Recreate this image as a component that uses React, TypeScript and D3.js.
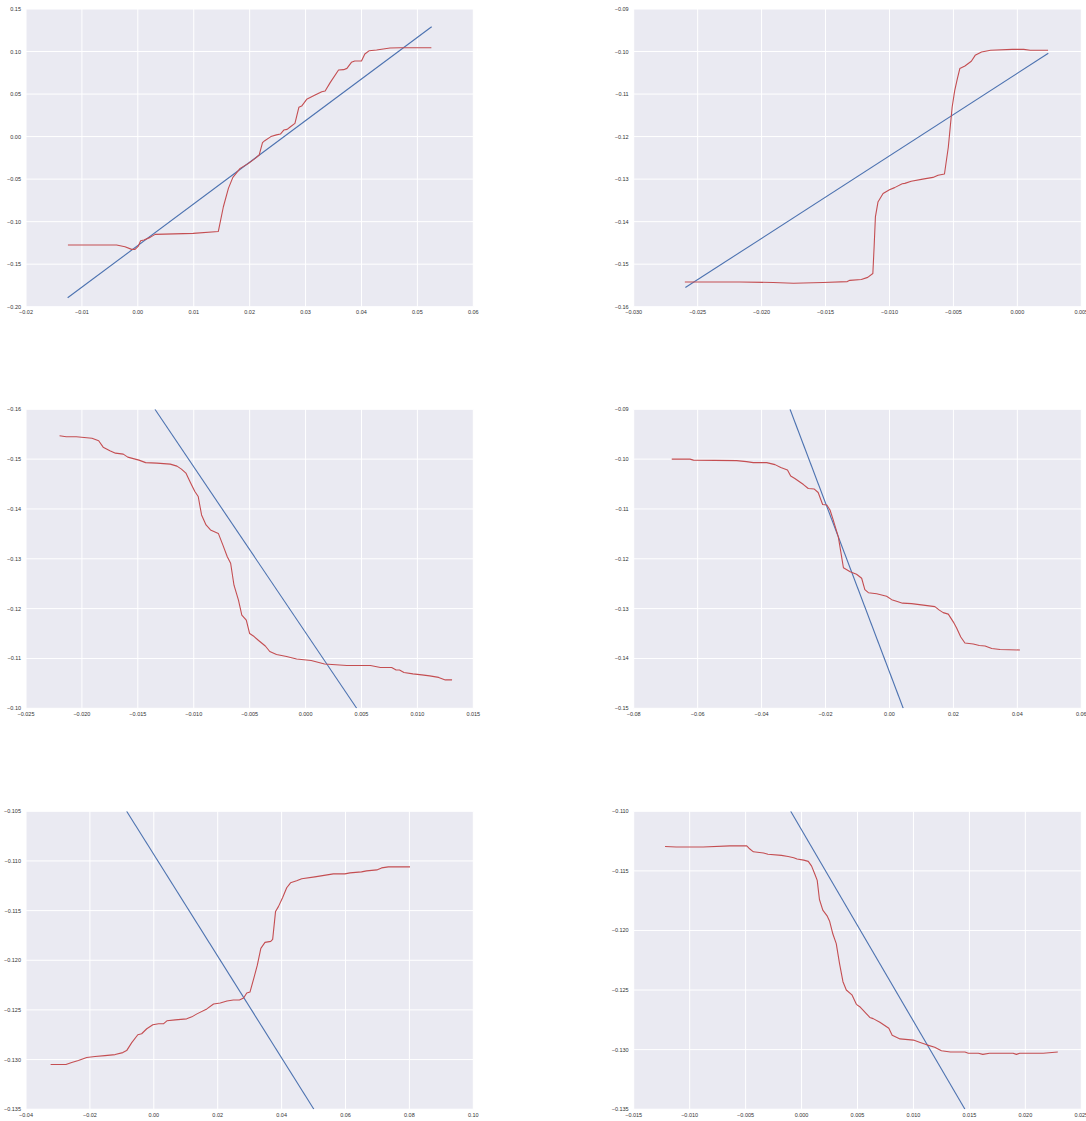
import React from "react";
import * as d3 from "d3";

// ---------- DATA ----------
// Panel 1 (top-left)
const p1XTicks = [-0.02, -0.01, 0.0, 0.01, 0.02, 0.03, 0.04, 0.05, 0.06];
const p1YTicks = [-0.2, -0.15, -0.1, -0.05, 0.0, 0.05, 0.1, 0.15];
const p1BlueX = [-0.01255, 0.05255];
const p1BlueY = [-0.1895, 0.1292];
const p1RedX = [-0.0125, -0.0038, -0.0023, -0.0011, -0.0005, 0.0001, 0.0005, 0.0011, 0.0022, 0.0031, 0.0099, 0.0144, 0.0153, 0.0162, 0.017, 0.0183, 0.0198, 0.021, 0.0217, 0.0223, 0.0227, 0.0238, 0.0248, 0.0255, 0.0261, 0.0267, 0.0273, 0.0281, 0.0288, 0.0293, 0.0302, 0.0317, 0.0329, 0.0335, 0.0344, 0.0359, 0.0368, 0.0374, 0.0382, 0.0388, 0.04, 0.0406, 0.0414, 0.0427, 0.0451, 0.0469, 0.0525];
const p1RedY = [-0.1275, -0.1275, -0.1295, -0.1326, -0.1326, -0.1287, -0.1224, -0.1216, -0.1185, -0.115, -0.1138, -0.1115, -0.0825, -0.0609, -0.048, -0.0374, -0.0315, -0.0256, -0.0217, -0.0072, -0.0048, 0.0, 0.002, 0.003, 0.0077, 0.0085, 0.0116, 0.0155, 0.0344, 0.0359, 0.0438, 0.0489, 0.0528, 0.0536, 0.0634, 0.0783, 0.0787, 0.0802, 0.0873, 0.0888, 0.0888, 0.0971, 0.101, 0.1018, 0.1041, 0.1045, 0.1045];

// Panel 2 (top-right)
const p2XTicks = [-0.03, -0.025, -0.02, -0.015, -0.01, -0.005, 0.0, 0.005];
const p2YTicks = [-0.16, -0.15, -0.14, -0.13, -0.12, -0.11, -0.1, -0.09];
const p2BlueX = [-0.02596, 0.00242];
const p2BlueY = [-0.1555, -0.1004];
const p2RedX = [-0.026, -0.0217, -0.0191, -0.0175, -0.0152, -0.0133, -0.0131, -0.0122, -0.0117, -0.0113, -0.0112, -0.0111, -0.0109, -0.0105, -0.01, -0.0096, -0.009, -0.0088, -0.0083, -0.0074, -0.0066, -0.0062, -0.0057, -0.0054, -0.0051, -0.0049, -0.0047, -0.0045, -0.0041, -0.0036, -0.0033, -0.0028, -0.0021, -0.0004, 0.0005, 0.001, 0.0024];
const p2RedY = [-0.1542, -0.1542, -0.1543, -0.1545, -0.1543, -0.1541, -0.1538, -0.1536, -0.1531, -0.1522, -0.1459, -0.1389, -0.1354, -0.1334, -0.1325, -0.132, -0.1311, -0.131, -0.1305, -0.13, -0.1296, -0.1291, -0.1288, -0.1225, -0.1131, -0.1092, -0.1065, -0.104, -0.1034, -0.1023, -0.1009, -0.1001, -0.0997, -0.0995, -0.0995, -0.0997, -0.0997];

// Panel 3 (middle-left, inverted y)
const p3XTicks = [-0.025, -0.02, -0.015, -0.01, -0.005, 0.0, 0.005, 0.01, 0.015];
const p3YTicks = [-0.16, -0.15, -0.14, -0.13, -0.12, -0.11, -0.1];
const p3BlueX = [-0.01347, 0.00457];
const p3BlueY = [-0.16, -0.1];
const p3RedX = [-0.022, -0.0214, -0.0205, -0.0191, -0.0185, -0.0181, -0.0175, -0.017, -0.0163, -0.0159, -0.0149, -0.0143, -0.0133, -0.0121, -0.0115, -0.0111, -0.0107, -0.0103, -0.0099, -0.0096, -0.0093, -0.0089, -0.0085, -0.0078, -0.0074, -0.007, -0.0067, -0.0064, -0.006, -0.0057, -0.0053, -0.005, -0.0046, -0.0042, -0.0036, -0.0032, -0.0026, -0.0017, -0.0008, 0.0005, 0.0017, 0.0037, 0.0058, 0.0067, 0.0077, 0.0081, 0.0084, 0.0088, 0.0096, 0.0104, 0.0111, 0.0119, 0.0125, 0.0131];
const p3RedY = [-0.1547, -0.1545, -0.1545, -0.1542, -0.1537, -0.1524, -0.1517, -0.1512, -0.151, -0.1504, -0.1498, -0.1493, -0.1492, -0.149, -0.1486, -0.148, -0.1472, -0.1453, -0.1435, -0.1425, -0.1388, -0.1368, -0.1358, -0.1351, -0.1328, -0.1304, -0.1291, -0.1247, -0.1217, -0.1187, -0.1177, -0.115, -0.1144, -0.1136, -0.1125, -0.1114, -0.1108, -0.1104, -0.1099, -0.1096, -0.1089, -0.1086, -0.1086, -0.1082, -0.1082, -0.1077, -0.1077, -0.1072, -0.1069, -0.1067, -0.1065, -0.1062, -0.1057, -0.1057];

// Panel 4 (middle-right)
const p4XTicks = [-0.08, -0.06, -0.04, -0.02, 0.0, 0.02, 0.04, 0.06];
const p4YTicks = [-0.15, -0.14, -0.13, -0.12, -0.11, -0.1, -0.09];
const p4BlueX = [-0.0311, 0.0043];
const p4BlueY = [-0.09, -0.15];
const p4RedX = [-0.0681, -0.0624, -0.0613, -0.0478, -0.0447, -0.0426, -0.0384, -0.0358, -0.034, -0.0319, -0.0309, -0.0296, -0.0269, -0.0254, -0.0235, -0.0223, -0.0209, -0.0196, -0.0186, -0.0176, -0.016, -0.0144, -0.0123, -0.0103, -0.0087, -0.0077, -0.0066, -0.004, -0.0009, 0.0007, 0.0022, 0.0041, 0.0069, 0.0106, 0.0142, 0.0156, 0.0168, 0.0184, 0.02, 0.021, 0.0223, 0.0236, 0.0262, 0.0281, 0.0299, 0.032, 0.0346, 0.0408];
const p4RedY = [-0.1, -0.1, -0.1002, -0.1003, -0.1005, -0.1007, -0.1007, -0.1011, -0.1017, -0.1022, -0.1034, -0.1039, -0.1051, -0.1059, -0.106, -0.1067, -0.1091, -0.1092, -0.1102, -0.1122, -0.1156, -0.1218, -0.1226, -0.1231, -0.1239, -0.1262, -0.1268, -0.127, -0.1275, -0.1282, -0.1285, -0.1289, -0.129, -0.1293, -0.1296, -0.1303, -0.1308, -0.1311, -0.1327, -0.1339, -0.1357, -0.1369, -0.1371, -0.1374, -0.1375, -0.138, -0.1382, -0.1383];

// Panel 5 (bottom-left)
const p5XTicks = [-0.04, -0.02, 0.0, 0.02, 0.04, 0.06, 0.08, 0.1];
const p5YTicks = [-0.135, -0.13, -0.125, -0.12, -0.115, -0.11, -0.105];
const p5BlueX = [-0.0085, 0.0501];
const p5BlueY = [-0.105, -0.135];
const p5RedX = [-0.0323, -0.0275, -0.0257, -0.0236, -0.021, -0.0184, -0.0153, -0.0121, -0.0097, -0.0085, -0.0069, -0.005, -0.0038, -0.0022, -0.0003, 0.0015, 0.003, 0.0041, 0.0067, 0.0103, 0.0119, 0.0135, 0.0166, 0.0187, 0.0208, 0.0229, 0.0249, 0.0268, 0.0281, 0.0291, 0.0301, 0.0314, 0.0324, 0.0335, 0.0348, 0.0366, 0.0372, 0.0381, 0.039, 0.0403, 0.0416, 0.0428, 0.0447, 0.0463, 0.0504, 0.0562, 0.0598, 0.0614, 0.065, 0.0666, 0.0698, 0.0713, 0.0734, 0.0802];
const p5RedY = [-0.1305, -0.1305, -0.1303, -0.1301, -0.1298, -0.1297, -0.1296, -0.1295, -0.1293, -0.1291, -0.1283, -0.1275, -0.1274, -0.1269, -0.1265, -0.1264, -0.1264, -0.1261, -0.126, -0.1259, -0.1257, -0.1254, -0.1249, -0.1244, -0.1243, -0.1241, -0.124, -0.124, -0.1238, -0.1233, -0.1232, -0.1217, -0.1205, -0.1188, -0.1182, -0.1181, -0.1179, -0.1151, -0.1146, -0.1137, -0.1127, -0.1122, -0.112, -0.1118, -0.1116, -0.1113, -0.1113, -0.1112, -0.1111, -0.111, -0.1109, -0.1107, -0.1106, -0.1106];

// Panel 6 (bottom-right)
const p6XTicks = [-0.015, -0.01, -0.005, 0.0, 0.005, 0.01, 0.015, 0.02, 0.025];
const p6YTicks = [-0.135, -0.13, -0.125, -0.12, -0.115, -0.11];
const p6BlueX = [-0.00097, 0.0146];
const p6BlueY = [-0.11, -0.135];
const p6RedX = [-0.0122, -0.0112, -0.0088, -0.0064, -0.0049, -0.0047, -0.0043, -0.0034, -0.003, -0.0018, -0.0012, -0.0007, -0.0004, 0.0002, 0.0006, 0.0009, 0.0012, 0.0014, 0.0016, 0.0019, 0.0023, 0.0025, 0.0028, 0.0031, 0.0034, 0.0037, 0.004, 0.0045, 0.0049, 0.0052, 0.0057, 0.0061, 0.0064, 0.007, 0.0078, 0.0081, 0.0088, 0.01, 0.0106, 0.0112, 0.0119, 0.0125, 0.0133, 0.0146, 0.0149, 0.0158, 0.0162, 0.0168, 0.0189, 0.0192, 0.0195, 0.0216, 0.0229];
const p6RedY = [-0.11296, -0.113, -0.113, -0.1129, -0.1129, -0.1131, -0.1134, -0.1135, -0.1136, -0.1137, -0.1138, -0.1139, -0.114, -0.1141, -0.1142, -0.1146, -0.1153, -0.1158, -0.1174, -0.1183, -0.1188, -0.1192, -0.1203, -0.1211, -0.1228, -0.1243, -0.125, -0.1254, -0.1262, -0.1264, -0.1269, -0.1273, -0.1274, -0.1277, -0.1282, -0.1288, -0.1291, -0.1292, -0.1294, -0.1296, -0.1298, -0.1301, -0.1302, -0.1302, -0.1303, -0.1303, -0.1304, -0.1303, -0.1303, -0.1304, -0.1303, -0.1303, -0.1302];

// ---------- LAYOUT ----------
const W = 1086;
const H = 1121;
const colX: [number, number][] = [
  [26, 473.3],
  [633.7, 1081.3],
];
const rowY: [number, number][] = [
  [9, 306.7],
  [409.3, 708.3],
  [811.3, 1109.2],
];

const RED = "#C44E52";
const BLUE = "#4C72B0";
const BG = "#EAEAF2";

type PanelDef = {
  xTicks: number[];
  yTicks: number[];
  xDec: number;
  yDec: number;
  invertY: boolean;
  blueX: number[];
  blueY: number[];
  redX: number[];
  redY: number[];
  col: number;
  row: number;
};

const panels: PanelDef[] = [
  { xTicks: p1XTicks, yTicks: p1YTicks, xDec: 2, yDec: 2, invertY: false, blueX: p1BlueX, blueY: p1BlueY, redX: p1RedX, redY: p1RedY, col: 0, row: 0 },
  { xTicks: p2XTicks, yTicks: p2YTicks, xDec: 3, yDec: 2, invertY: false, blueX: p2BlueX, blueY: p2BlueY, redX: p2RedX, redY: p2RedY, col: 1, row: 0 },
  { xTicks: p3XTicks, yTicks: p3YTicks, xDec: 3, yDec: 2, invertY: true, blueX: p3BlueX, blueY: p3BlueY, redX: p3RedX, redY: p3RedY, col: 0, row: 1 },
  { xTicks: p4XTicks, yTicks: p4YTicks, xDec: 2, yDec: 2, invertY: false, blueX: p4BlueX, blueY: p4BlueY, redX: p4RedX, redY: p4RedY, col: 1, row: 1 },
  { xTicks: p5XTicks, yTicks: p5YTicks, xDec: 2, yDec: 3, invertY: false, blueX: p5BlueX, blueY: p5BlueY, redX: p5RedX, redY: p5RedY, col: 0, row: 2 },
  { xTicks: p6XTicks, yTicks: p6YTicks, xDec: 3, yDec: 3, invertY: false, blueX: p6BlueX, blueY: p6BlueY, redX: p6RedX, redY: p6RedY, col: 1, row: 2 },
];

const fmt = (v: number, dec: number) => {
  const s = d3.format(`.${dec}f`)(Math.abs(v) < 1e-12 ? 0 : v);
  return s.replace("-", "\u2212");
};

function Panel({ p, idx }: { p: PanelDef; idx: number }) {
  const [x0, x1] = colX[p.col];
  const [y0, y1] = rowY[p.row];
  const xMin = d3.min(p.xTicks)!;
  const xMax = d3.max(p.xTicks)!;
  const yMin = d3.min(p.yTicks)!;
  const yMax = d3.max(p.yTicks)!;
  const xs = d3.scaleLinear().domain([xMin, xMax]).range([x0, x1]);
  const ys = d3
    .scaleLinear()
    .domain(p.invertY ? [yMax, yMin] : [yMin, yMax])
    .range([y1, y0]);
  const line = d3
    .line<number>()
    .x((_, i) => 0)
    .y(() => 0);
  const mk = (X: number[], Y: number[]) =>
    d3
      .line<number>()
      .x((d) => xs(X[d]))
      .y((d) => ys(Y[d]))(d3.range(X.length)) || "";
  void line;
  const clipId = `clip${idx}`;
  return (
    <g>
      <defs>
        <clipPath id={clipId}>
          <rect x={x0} y={y0} width={x1 - x0} height={y1 - y0} />
        </clipPath>
      </defs>
      <rect x={x0} y={y0} width={x1 - x0} height={y1 - y0} fill={BG} />
      {p.xTicks.map((t, i) => (
        <line key={"gx" + i} x1={xs(t)} x2={xs(t)} y1={y0} y2={y1} stroke="#fff" strokeWidth={1} />
      ))}
      {p.yTicks.map((t, i) => (
        <line key={"gy" + i} x1={x0} x2={x1} y1={ys(t)} y2={ys(t)} stroke="#fff" strokeWidth={1} />
      ))}
      <g clipPath={`url(#${clipId})`}>
        <path d={mk(p.blueX, p.blueY)} fill="none" stroke={BLUE} strokeWidth={1.1} />
        <path d={mk(p.redX, p.redY)} fill="none" stroke={RED} strokeWidth={1.1} strokeLinejoin="round" />
      </g>
      {p.xTicks.map((t, i) => (
        <text key={"tx" + i} x={xs(t)} y={y1 + 7.5} textAnchor="middle" fontSize={5.5} fill="#333">
          {fmt(t, p.xDec)}
        </text>
      ))}
      {p.yTicks.map((t, i) => (
        <text key={"ty" + i} x={x0 - 5} y={ys(t) + 2} textAnchor="end" fontSize={5.5} fill="#333">
          {fmt(t, p.yDec)}
        </text>
      ))}
    </g>
  );
}

export default function App() {
  return (
    <svg
      width={W}
      height={H}
      viewBox={`0 0 ${W} ${H}`}
      style={{ position: "absolute", left: 0, top: 0, background: "#fff", fontFamily: "'Liberation Sans', Arial, sans-serif" }}
    >
      <rect x={0} y={0} width={W} height={H} fill="#fff" />
      {panels.map((p, i) => (
        <Panel key={i} p={p} idx={i} />
      ))}
    </svg>
  );
}
